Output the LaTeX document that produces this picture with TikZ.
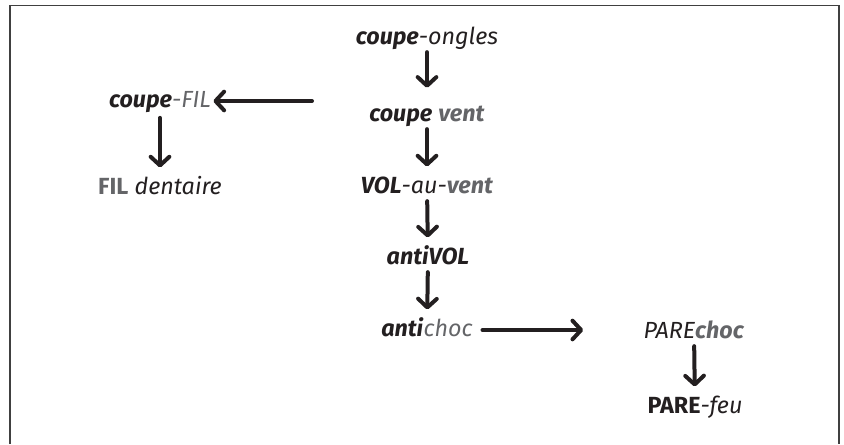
\documentclass[tikz,border=0pt]{standalone}
\usepackage{fontspec}
\setmainfont{Fira Sans}
\usetikzlibrary{arrows.meta}

\definecolor{ink}{RGB}{35,31,32}
\definecolor{greyword}{RGB}{100,101,104}
\definecolor{framegrey}{RGB}{64,64,64}
\newcommand{\wbi}[1]{\textbf{\textit{#1}}}
\newcommand{\greyw}[1]{\textcolor{greyword}{#1}}

\tikzset{every picture/.style={line width=0.75pt}}
\tikzset{
  word/.style={text=ink, font=\fontsize{17.5}{21}\selectfont, inner sep=1pt, text height=13pt, text depth=3.5pt},
  derive/.style={draw=ink, line width=3pt, line cap=round, -{Straight Barb[length=6.5pt,width=14pt,round]}, shorten <=1pt, shorten >=5.8pt},
}

\begin{document}
\begin{tikzpicture}[x=0.75pt,y=0.75pt,yscale=-1,xscale=1]
\useasboundingbox (0,0) rectangle (844,444);

%Frame (open at the bottom)
\draw [color=framegrey, line width=1pt] (10,444) -- (10,5.7) -- (839,5.7) -- (839,444) ;

% Text Node
\node [word] (ongles) at (427,38) {\wbi{coupe}\textit{-ongles}};
% Text Node
\node [word] (vent) at (427,115) {\wbi{coupe} \greyw{\wbi{vent}}};
% Text Node
\node [word] (volauvent) at (427,187) {\wbi{VOL}\textit{-au-}\greyw{\wbi{vent}}};
% Text Node
\node [word] (antivol) at (428,258) {\wbi{antiVOL}};
% Text Node
\node [word] (antichoc) at (427,330) {\wbi{anti}\greyw{\textit{choc}}};
% Text Node
\node [word] (parechoc) at (694,332) {\textit{PARE}\greyw{\wbi{choc}}};
% Text Node
\node [word] (parefeu) at (695,407) {\textbf{PARE}\textit{-feu}};
% Text Node
\node [word] (coupefil) at (160,101) {\wbi{coupe}\greyw{\textit{-FIL}}};
% Text Node
\node [word] (dentaire) at (160,188) {\greyw{\textbf{FIL}} \textit{dentaire}};

\coordinate (filfrom) at (312,101);

%Straight Lines
\draw [derive, shorten >=10.8pt] (ongles) -- (vent) ;
\draw [derive] (vent) -- (volauvent) ;
\draw [derive] (volauvent) -- (antivol) ;
\draw [derive] (antivol) -- (antichoc) ;
\draw [derive] (parechoc) -- (parefeu) ;
\draw [derive, shorten <=3pt] (coupefil) -- (dentaire) ;
\draw [derive, shorten <=6pt, shorten >=44pt] (antichoc.east) -- (antichoc.east -| parechoc.west) ;
\draw [derive, shorten <=0pt, shorten >=0.5pt] (filfrom) -- (coupefil.east) ;

\end{tikzpicture}
\end{document}
